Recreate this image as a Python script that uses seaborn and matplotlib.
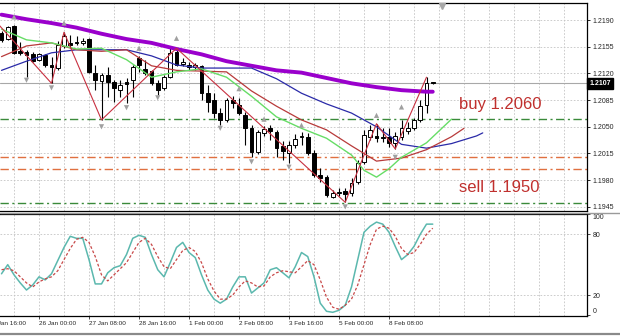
import numpy as np
import pandas as pd
import matplotlib
matplotlib.use("Agg")
import matplotlib.pyplot as plt
import matplotlib.transforms as mtransforms
from matplotlib.lines import Line2D
import seaborn as sns

# ---------------- data ----------------
bars = list(range(-6, 64))
opens = [1.2173, 1.2165, 1.2182, 1.2149, 1.2148, 1.2145, 1.2138, 1.2144, 1.2131, 1.2127,
         1.2156, 1.2160, 1.2161, 1.2160, 1.2165, 1.2121, 1.2110, 1.2118, 1.2109, 1.2098,
         1.2109, 1.2111, 1.2140, 1.2126, 1.2123, 1.2107, 1.2101, 1.2115, 1.2148, 1.2132,
         1.2131, 1.2128, 1.2130, 1.2094, 1.2085, 1.2068, 1.2059, 1.2085, 1.2079, 1.2065,
         1.2048, 1.2017, 1.2042, 1.2048, 1.2043, 1.2025, 1.2016, 1.2026, 1.2037, 1.2037,
         1.2016, 1.1987, 1.1984, 1.1958, 1.1963, 1.1966, 1.1963, 1.1978, 1.2004, 1.2037,
         1.2038, 1.2037, 1.2037, 1.2029, 1.2037, 1.2045, 1.2048, 1.2059, 1.2079, 1.2109]
highs = [1.2176, 1.2182, 1.2183, 1.2161, 1.2151, 1.2148, 1.2147, 1.2145, 1.2142, 1.2162,
         1.2174, 1.2170, 1.2169, 1.2166, 1.2166, 1.2131, 1.2121, 1.2128, 1.2111, 1.2111,
         1.2114, 1.2131, 1.2143, 1.2138, 1.2124, 1.2111, 1.2118, 1.2153, 1.2153, 1.2140,
         1.2135, 1.2134, 1.2131, 1.2105, 1.2094, 1.2075, 1.2088, 1.2090, 1.2088, 1.2069,
         1.2052, 1.2046, 1.2051, 1.2052, 1.2046, 1.2031, 1.2031, 1.2041, 1.2043, 1.2042,
         1.2020, 1.1996, 1.1987, 1.1967, 1.1970, 1.1970, 1.1983, 1.2007, 1.2046, 1.2052,
         1.2054, 1.2048, 1.2048, 1.2043, 1.2059, 1.2056, 1.2062, 1.2085, 1.2115, 1.2109]
lows = [1.2161, 1.2164, 1.2145, 1.2144, 1.2115, 1.2135, 1.2136, 1.2128, 1.2107, 1.2124,
        1.2153, 1.2155, 1.2157, 1.2157, 1.2121, 1.2098, 1.2059, 1.2089, 1.2083, 1.2089,
        1.2081, 1.2089, 1.2122, 1.2118, 1.2105, 1.2092, 1.2098, 1.2114, 1.2130, 1.2130,
        1.2124, 1.2124, 1.2085, 1.2069, 1.2062, 1.2052, 1.2056, 1.2075, 1.2065, 1.2026,
        1.2010, 1.2014, 1.2038, 1.2033, 1.2010, 1.2007, 1.2003, 1.2022, 1.2026, 1.2013,
        1.1984, 1.1978, 1.1958, 1.1957, 1.1959, 1.1951, 1.1959, 1.1975, 1.2001, 1.2033,
        1.2030, 1.2030, 1.2024, 1.2021, 1.2033, 1.2041, 1.2046, 1.2056, 1.2068, 1.2106]
closes = [1.2164, 1.2181, 1.2147, 1.2147, 1.2144, 1.2136, 1.2145, 1.2131, 1.2128, 1.2157,
          1.2169, 1.2157, 1.2160, 1.2162, 1.2122, 1.2111, 1.2118, 1.2109, 1.2101, 1.2105,
          1.2106, 1.2128, 1.2131, 1.2121, 1.2107, 1.2098, 1.2115, 1.2147, 1.2131, 1.2135,
          1.2128, 1.2131, 1.2094, 1.2083, 1.2068, 1.2059, 1.2085, 1.2081, 1.2068, 1.2048,
          1.2017, 1.2043, 1.2047, 1.2045, 1.2022, 1.2018, 1.2026, 1.2034, 1.2038, 1.2016,
          1.1987, 1.1983, 1.1961, 1.1963, 1.1965, 1.1962, 1.1976, 1.2003, 1.2039, 1.2046,
          1.2035, 1.2035, 1.2029, 1.2038, 1.2048, 1.2048, 1.2059, 1.2077, 1.2107, 1.2107]

purple_bars = [-6, -2, 2, 6, 10, 14, 18, 22, 26, 30, 34, 38, 42, 46, 50, 54, 58, 62, 63]
purple_vals = [1.2197, 1.2191, 1.2186, 1.2180, 1.2172, 1.2165, 1.2160, 1.2152, 1.2145, 1.2136,
               1.2130, 1.2124, 1.2121, 1.2114, 1.2107, 1.2102, 1.2098, 1.2096, 1.2096]

jaw_bars = [-6, -2, 2, 6, 10, 14, 18, 22, 26, 30, 34, 38, 42, 46, 50, 54, 58, 62, 66, 70, 71]
jaw_vals = [1.2124, 1.2136, 1.2147, 1.2151, 1.2151, 1.2151, 1.2143, 1.2131, 1.2127, 1.2127,
            1.2127, 1.2113, 1.2094, 1.2080, 1.2068, 1.2050, 1.2027, 1.2022, 1.2028, 1.2038, 1.2042]

teeth_bars = [-6, -2, 2, 6, 10, 14, 18, 22, 26, 30, 34, 38, 42, 46, 50, 54, 58, 62, 66, 68]
teeth_vals = [1.2142, 1.2156, 1.2160, 1.2151, 1.2149, 1.2151, 1.2130, 1.2124, 1.2123, 1.2122,
              1.2097, 1.2077, 1.2059, 1.2046, 1.2025, 1.2005, 1.2009, 1.2020, 1.2037, 1.2048]

lips_bars = [-6, -2, 2, 6, 10, 14, 18, 22, 26, 30, 34, 38, 42, 46, 50, 52, 54, 56, 58, 62, 66]
lips_vals = [1.2178, 1.2164, 1.2160, 1.2152, 1.2153, 1.2138, 1.2115, 1.2122, 1.2126, 1.2115,
             1.2090, 1.2063, 1.2048, 1.2035, 1.2013, 1.1993, 1.1984, 1.1995, 1.2010, 1.2029, 1.2060]

zigzag_bars = [-8, 2, 4, 10, 22, 49, 54, 57, 62]
zigzag_vals = [1.2198, 1.2107, 1.2174, 1.2059, 1.2153, 1.1951, 1.2054, 1.2021, 1.2115]

frac_up_bars = [-4, 4, 16, 22, 32, 36, 42, 54, 58]
frac_up_vals = [1.2194, 1.2186, 1.2153, 1.2166, 1.2100, 1.2060, 1.2052, 1.2065, 1.2076]
frac_dn_bars = [-2, 2, 10, 14, 19, 29, 34, 40, 49, 57]
frac_dn_vals = [1.2111, 1.2101, 1.2050, 1.2075, 1.2088, 1.2048, 1.2004, 1.1997, 1.1945, 1.2010]

stoch_k = [41, 50, 40, 32, 25, 30, 38, 35, 41, 54, 67, 78, 76, 76, 55, 31, 31, 42, 47, 49,
           60, 76, 79, 77, 60, 45, 38, 52, 67, 72, 62, 57, 40, 25, 16, 12, 16, 28, 38, 38,
           22, 27, 32, 45, 47, 42, 37, 48, 62, 58, 38, 12, 4, 3, 5, 10, 28, 55, 82, 88,
           92, 90, 82, 68, 55, 60, 68, 80, 90, 90]
stoch_d = [45, 46, 44, 38, 32, 28, 33, 36, 38, 44, 55, 66, 75, 77, 72, 58, 40, 34, 40, 46,
           52, 62, 72, 76, 70, 58, 48, 46, 55, 64, 67, 63, 52, 36, 24, 16, 16, 20, 28, 34,
           32, 28, 29, 38, 42, 44, 43, 42, 48, 54, 50, 35, 18, 8, 6, 10, 16, 30, 50, 70,
           85, 88, 86, 78, 66, 60, 62, 70, 80, 86]

level_prices = [1.2060, 1.2010, 1.1995, 1.1950]
level_colors = ["#3A8A3A", "#E07040", "#E07040", "#3A8A3A"]
current_price = 1.2107
price_ticks = [1.2190, 1.2155, 1.2120, 1.2085, 1.2050, 1.2015, 1.1980, 1.1945]
stoch_ticks = [100, 80, 20, 0]
time_tick_bars = [-8, 0, 8, 16, 24, 32, 40, 48, 56]
time_tick_labels = ["22 Jan 16:00", "26 Jan 00:00", "27 Jan 08:00", "28 Jan 16:00", "1 Feb 00:00",
                    "2 Feb 08:00", "3 Feb 16:00", "5 Feb 00:00", "8 Feb 08:00"]
notes = [("buy 1.2060", 67.2, 1.2079), ("sell 1.1950", 67.2, 1.1970)]

# ---------------- style ----------------
sns.set_theme(style="white")
plt.rcParams["font.family"] = ["Liberation Sans", "DejaVu Sans"]

W, H = 620, 336
fig = plt.figure(figsize=(W / 100, H / 100), dpi=100)
fig.patch.set_facecolor("white")

def fx(px):
    return px / W

def fy(py):
    return 1 - py / H

x_left, x_right = -6.24, 87.68
ax = fig.add_axes([0, fy(211), fx(587), fy(3) - fy(211)])
ax2 = fig.add_axes([0, fy(316), fx(587), fy(214) - fy(316)])

for a in (ax, ax2):
    a.set_facecolor("white")
    a.set_xlim(x_left, x_right)
    for s in ("top", "right", "bottom"):
        a.spines[s].set_visible(True)
        a.spines[s].set_color("black")
        a.spines[s].set_linewidth(0.9)
    a.spines["left"].set_visible(False)
    for gb in range(-4, 88, 4):
        a.axvline(gb, color="#C4C4C4", lw=0.6, ls=(0, (2, 2)), zorder=0)

ax.set_ylim(1.19396, 1.22123)
ax2.set_ylim(-0.65, 99.7)

# main grid (horizontal)
for p in price_ticks:
    ax.axhline(p, color="#C4C4C4", lw=0.6, ls=(0, (2, 2)), zorder=0)

# levels
for p, c in zip(level_prices, level_colors):
    ax.axhline(p, color=c, lw=1.0, ls=(0, (6, 2.5, 1.5, 2.5)), zorder=1)
ax.axhline(current_price, color="#A8A8A8", lw=0.8, zorder=1)

# candles
df = pd.DataFrame({"bar": bars, "open": opens, "high": highs, "low": lows, "close": closes})
up = (df["close"] >= df["open"]).to_numpy()
ax.vlines(df["bar"], df["low"], df["high"], color="black", lw=0.8, zorder=3)
body_lo = np.minimum(df["open"], df["close"])
body_h = np.maximum(np.abs(df["close"] - df["open"]), 0.00008)
ax.bar(df["bar"], body_h, bottom=body_lo, width=0.62,
       color=np.where(up, "white", "black"), edgecolor="black", linewidth=0.7, zorder=4)

# moving averages (alligator + long MA)
sns.lineplot(x=purple_bars, y=purple_vals, ax=ax, color="#9A00CC", linewidth=2.8, zorder=6)
sns.lineplot(x=jaw_bars, y=jaw_vals, ax=ax, color="#2A2AA8", linewidth=0.9, zorder=6)
sns.lineplot(x=teeth_bars, y=teeth_vals, ax=ax, color="#B83A3A", linewidth=0.9, zorder=6)
sns.lineplot(x=lips_bars, y=lips_vals, ax=ax, color="#66DD66", linewidth=1.0, zorder=6)
sns.lineplot(x=zigzag_bars, y=zigzag_vals, ax=ax, color="#C83040", linewidth=0.8, zorder=7)

# fractals
sns.scatterplot(x=frac_up_bars, y=frac_up_vals, ax=ax, marker="^", s=14, color="#A0A0A0",
                edgecolor="none", zorder=8)
sns.scatterplot(x=frac_dn_bars, y=frac_dn_vals, ax=ax, marker="v", s=14, color="#A0A0A0",
                edgecolor="none", zorder=8)

# chart shift marker
tr = mtransforms.blended_transform_factory(ax.transData, ax.transAxes)
ax.plot([64.5], [0.985], marker="v", ms=4.5, color="#A8A8A8", transform=tr, clip_on=False, zorder=9)

# annotations
for txt, bx, by in notes:
    ax.text(bx, by, txt, color="#C0302E", fontsize=12, ha="left", va="center", zorder=9)

# right price axis
ax.yaxis.tick_right()
ax.set_yticks(price_ticks)
ax.set_yticklabels([f"{p:.4f}" for p in price_ticks])
ax.tick_params(axis="y", which="major", direction="out", length=2.5, width=0.6,
               color="black", labelsize=5, pad=1.5, right=True, left=False)
ax.set_xticks([])
ax.set_xlabel("")
ax.set_ylabel("")

trr = mtransforms.blended_transform_factory(ax.transAxes, ax.transData)
ax.text(1.004, current_price, f"{current_price:.4f}", transform=trr, color="white", fontsize=5,
        ha="left", va="center", fontweight="bold",
        bbox=dict(boxstyle="square,pad=0.3", fc="black", ec="black"), zorder=10, clip_on=False)

# stochastic
for lv in (80, 20):
    ax2.axhline(lv, color="#C4C4C4", lw=0.6, ls=(0, (2, 2)), zorder=0)
sns.lineplot(x=bars, y=stoch_k, ax=ax2, color="#5BB8AE", linewidth=1.1, zorder=3)
sns.lineplot(x=bars, y=stoch_d, ax=ax2, color="#C84848", linewidth=0.9,
             linestyle=(0, (2.2, 1.6)), zorder=4)

ax2.yaxis.tick_right()
ax2.set_yticks(stoch_ticks)
ax2.set_yticklabels([str(v) for v in stoch_ticks])
ax2.tick_params(axis="y", direction="out", length=2.5, width=0.6, labelsize=5, pad=1.5,
                right=True, left=False)
for lab, v in zip(ax2.get_yticklabels(), stoch_ticks):
    if v == 100:
        lab.set_va("top")
    elif v == 0:
        lab.set_va("bottom")
ax2.set_ylabel("")

ax2.set_xticks(time_tick_bars[1:])
ax2.set_xticklabels(time_tick_labels[1:], ha="left")
ax2.tick_params(axis="x", direction="out", length=2.2, width=0.6, labelsize=4.6, pad=1.2,
                bottom=True)
ax2.set_xlabel("")
ax2.annotate(time_tick_labels[0], xy=(time_tick_bars[0], 0), xycoords=("data", "axes fraction"),
             xytext=(0, -3.4), textcoords="offset points", ha="left", va="top",
             fontsize=4.6, annotation_clip=False)

# window frame lines
fig.add_artist(Line2D([0, 1], [fy(212.5), fy(212.5)], color="#9A9A9A", lw=1.0))
fig.add_artist(Line2D([0, 1], [fy(333.5), fy(333.5)], color="#8A8A8A", lw=1.6))

fig.savefig("out.png", dpi=100)
